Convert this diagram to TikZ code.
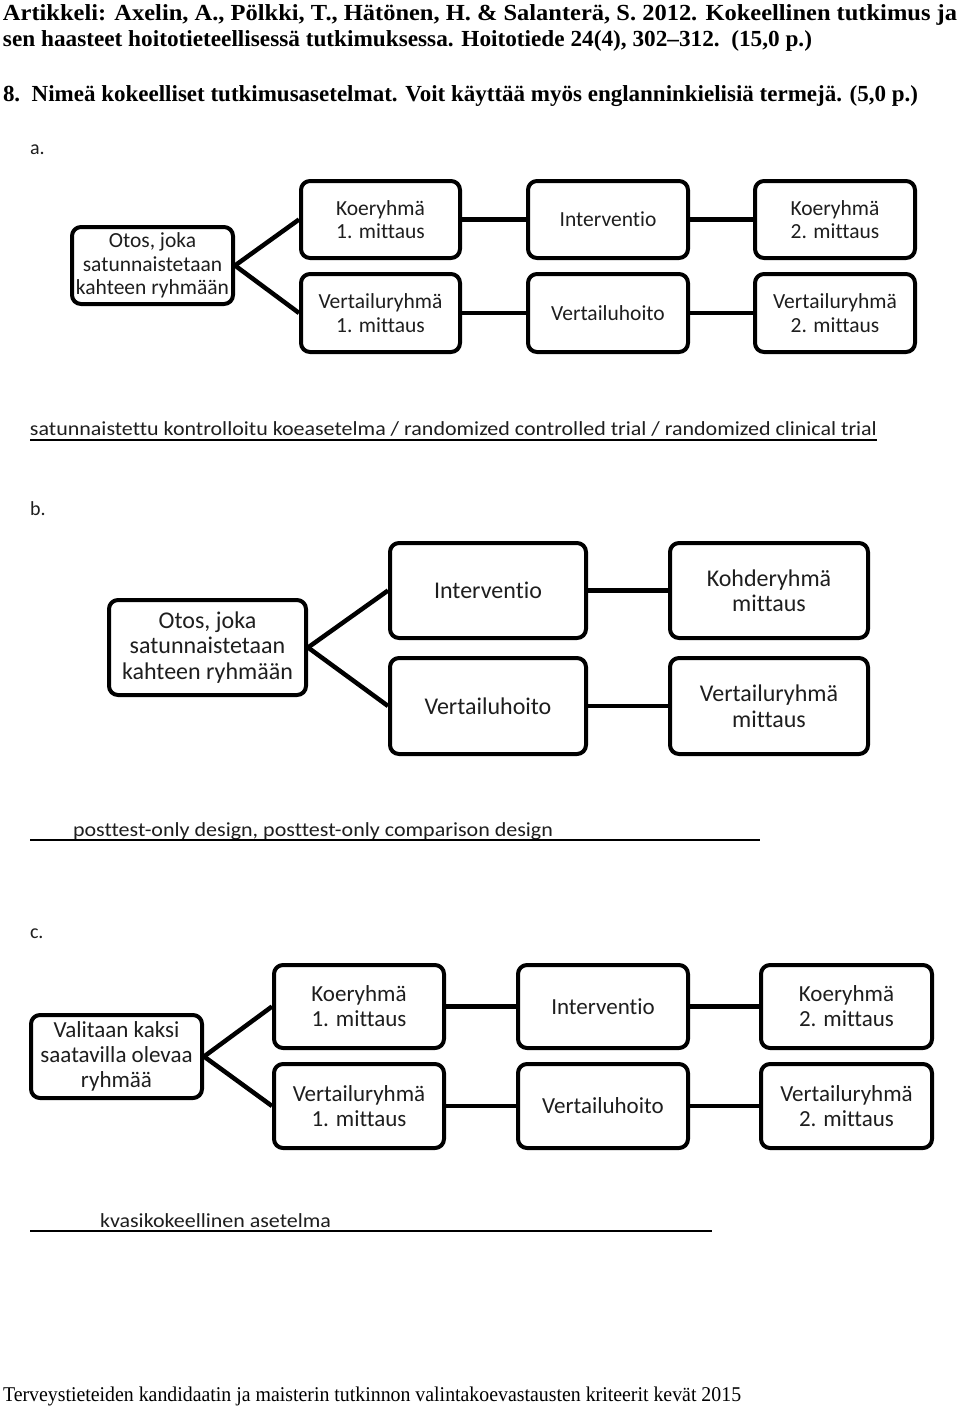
\documentclass[tikz,border=0pt]{standalone}
\usepackage{fontspec}
\usepackage{graphicx}
\setmainfont{Liberation Serif}
\newfontfamily\calfont[RawFeature={-liga;-clig;-dlig}]{Carlito}
\definecolor{textc}{RGB}{30,30,30}
\newcommand{\fitw}[2]{\resizebox{#1}{\height}{#2}}
\begin{document}
\begin{tikzpicture}[x=1pt,y=-1pt,line join=round,
  box/.style={draw, line width=4pt, rounded corners=9pt, align=center, inner sep=0pt, text=textc},
  fa/.style={font=\calfont\fontsize{21.5}{23.5}\selectfont},
  fb/.style={font=\calfont\fontsize{24}{25.5}\selectfont},
  fc/.style={font=\calfont\fontsize{23}{25}\selectfont},
  conn/.style={line width=4.5pt},
  uline/.style={line width=1.6pt},
  txt/.style={anchor=base west, inner sep=0pt, outer sep=0pt},
  hd/.style={txt, font=\fontsize{23}{25}\selectfont\bfseries},
  ans/.style={txt, font=\calfont\fontsize{20}{22}\selectfont, text=textc}]
\useasboundingbox (0,0) rectangle (960,1406);
\fill[white] (0,0) rectangle (960,1406);

% header
\node[hd] (h1) at (3,20) {\fitw{954pt}{Artikkeli: Axelin, A., Pölkki, T., Hätönen, H. \& Salanterä, S. 2012. Kokeellinen tutkimus ja}};
\node[hd] (h2) at (3,46) {\fitw{809pt}{sen haasteet hoitotieteellisessä tutkimuksessa. Hoitotiede 24(4), 302–312.\ \ (15,0 p.)}};
\node[hd] (h3) at (3,101) {\fitw{915pt}{8.\ \ Nimeä kokeelliset tutkimusasetelmat. Voit käyttää myös englanninkielisiä termejä. (5,0 p.)}};

% a.
\node[ans] (la) at (30,154) {a.};
\node[box,fa,minimum width=161pt,minimum height=77pt] (a0) at (152.5,265.5) {Otos, joka\\satunnaistetaan\\kahteen ryhmään};
\node[box,fa,minimum width=159pt,minimum height=77pt] (a1) at (380.5,219.5) {Koeryhmä\\1. mittaus};
\node[box,fa,minimum width=159pt,minimum height=78pt] (a2) at (380.5,313) {Vertailuryhmä\\1. mittaus};
\node[box,fa,minimum width=160pt,minimum height=77pt] (a3) at (608,219.5) {Interventio};
\node[box,fa,minimum width=160pt,minimum height=78pt] (a4) at (608,313) {Vertailuhoito};
\node[box,fa,minimum width=160pt,minimum height=77pt] (a5) at (835,219.5) {Koeryhmä\\2. mittaus};
\node[box,fa,minimum width=160pt,minimum height=78pt] (a6) at (835,313) {Vertailuryhmä\\2. mittaus};
\draw[conn] (a0.east) -- (a1.west);
\draw[conn] (a0.east) -- (a2.west);
\draw[conn] (a1.east) -- (a3.west);
\draw[conn] (a2.east) -- (a4.west);
\draw[conn] (a3.east) -- (a5.west);
\draw[conn] (a4.east) -- (a6.west);
\node[ans] (ansa) at (30,435) {\fitw{847pt}{satunnaistettu kontrolloitu koeasetelma / randomized controlled trial / randomized clinical trial}};
\coordinate (ua1) at (30,440); \coordinate (ua2) at (877,440);
\draw[uline] (ua1) -- (ua2);

% b.
\node[ans] (lb) at (30,515) {b.};
\node[box,fb,minimum width=197pt,minimum height=95pt] (b0) at (207.5,647.5) {Otos, joka\\satunnaistetaan\\kahteen ryhmään};
\node[box,fb,minimum width=196pt,minimum height=95pt] (b1) at (488,590.5) {Interventio};
\node[box,fb,minimum width=196pt,minimum height=96pt] (b2) at (488,706) {Vertailuhoito};
\node[box,fb,minimum width=198pt,minimum height=95pt] (b3) at (769,590.5) {Kohderyhmä\\mittaus};
\node[box,fb,minimum width=198pt,minimum height=96pt] (b4) at (769,706) {Vertailuryhmä\\mittaus};
\draw[conn] (b0.east) -- (b1.west);
\draw[conn] (b0.east) -- (b2.west);
\draw[conn] (b1.east) -- (b3.west);
\draw[conn] (b2.east) -- (b4.west);
\node[ans] (ansb) at (73,836) {\fitw{480pt}{posttest-only design, posttest-only comparison design}};
\coordinate (ub1) at (30,840); \coordinate (ub2) at (760,840);
\draw[uline] (ub1) -- (ub2);

% c.
\node[ans] (lc) at (30,938) {c.};
\node[box,fc,minimum width=171pt,minimum height=83pt] (c0) at (116.5,1056.5) {Valitaan kaksi\\saatavilla olevaa\\ryhmää};
\node[box,fc,minimum width=170pt,minimum height=83pt] (c1) at (359,1006.5) {Koeryhmä\\1. mittaus};
\node[box,fc,minimum width=170pt,minimum height=84pt] (c2) at (359,1106) {Vertailuryhmä\\1. mittaus};
\node[box,fc,minimum width=170pt,minimum height=83pt] (c3) at (603,1006.5) {Interventio};
\node[box,fc,minimum width=170pt,minimum height=84pt] (c4) at (603,1106) {Vertailuhoito};
\node[box,fc,minimum width=171pt,minimum height=83pt] (c5) at (846.5,1006.5) {Koeryhmä\\2. mittaus};
\node[box,fc,minimum width=171pt,minimum height=84pt] (c6) at (846.5,1106) {Vertailuryhmä\\2. mittaus};
\draw[conn] (c0.east) -- (c1.west);
\draw[conn] (c0.east) -- (c2.west);
\draw[conn] (c1.east) -- (c3.west);
\draw[conn] (c2.east) -- (c4.west);
\draw[conn] (c3.east) -- (c5.west);
\draw[conn] (c4.east) -- (c6.west);
\node[ans] (ansc) at (100,1227) {\fitw{231pt}{kvasikokeellinen asetelma}};
\coordinate (uc1) at (30,1231); \coordinate (uc2) at (712,1231);
\draw[uline] (uc1) -- (uc2);

% footer
\node[txt, font=\fontsize{21}{23}\selectfont] (foot) at (3,1401) {\fitw{738pt}{Terveystieteiden kandidaatin ja maisterin tutkinnon valintakoevastausten kriteerit kevät 2015}};
\end{tikzpicture}
\end{document}
